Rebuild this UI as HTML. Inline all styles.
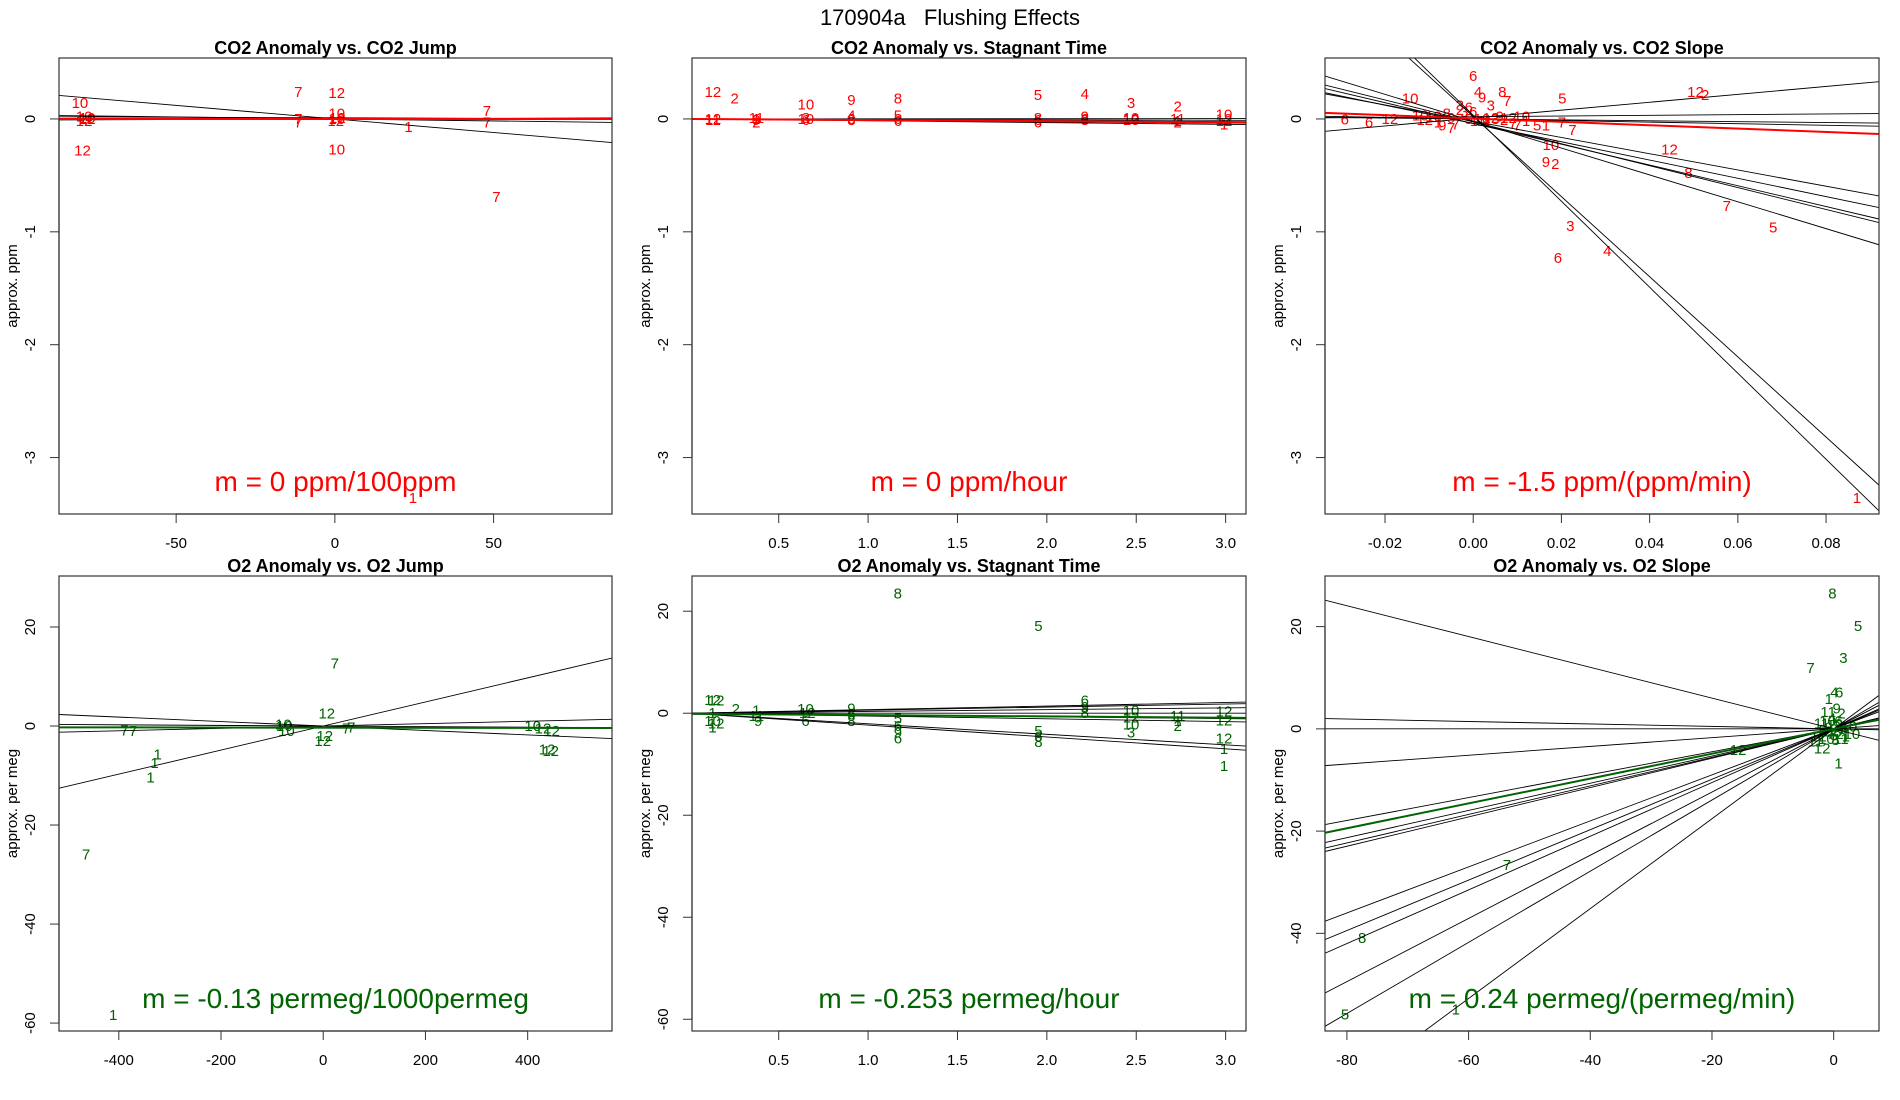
<!DOCTYPE html>
<html><head><meta charset="utf-8">
<style>
html,body{margin:0;padding:0;background:#fff;}
svg{display:block;font-family:"Liberation Sans",Arial,sans-serif;}
</style></head>
<body>
<svg id="fig" width="1900" height="1100" viewBox="0 0 1900 1100">
<text x="950" y="25" text-anchor="middle" font-size="22" xml:space="preserve">170904a &#160;&#160;Flushing Effects</text>
</svg>
<script>
// ---------- Panel 1: CO2 Anomaly vs CO2 Jump ----------
const p1X=[-80.3,-79.5,-79,-78,-79,-78,-11.5,-11.5,-11.5,0.6,0.6,0.6,0.3,0.8,0.6,23.2,47.9,47.9,50.9,24.6];
const p1Y=[0.14,-0.28,0.02,0.0,-0.02,0.01,0.24,0.0,-0.03,0.23,0.05,0.0,-0.02,0.01,-0.27,-0.07,0.07,-0.03,-0.69,-3.36];
const p1Lab=["10","12","10","12","12","10","7","7","7","12","10","10","12","12","10","1","7","7","7","1"];
const p1Slopes=[-0.0024,-0.00035,-0.0001,0.0001];
const p1Ints=[0,0,0.01,0];
const p1Fit=[0,0];
const p1XTicks=[-50,0,50];
const p1YTicks=[0,-1,-2,-3];

// ---------- Panel 2: CO2 Anomaly vs Stagnant Time ----------
const p2X=[0.132,0.254,0.132,0.132,0.375,0.375,0.375,0.375,0.652,0.652,0.652,0.652,0.907,0.907,0.907,0.907,1.167,1.167,1.167,1.167,1.95,1.95,1.95,1.95,2.212,2.212,2.212,2.212,2.471,2.471,2.471,2.471,2.732,2.732,2.732,2.732,2.991,2.991,2.991,2.991];
const p2Y=[0.24,0.18,0.0,-0.01,0.01,-0.01,-0.03,0.0,0.13,0.0,-0.01,0.01,0.17,0.03,0.0,-0.01,0.18,0.03,0.0,-0.02,0.21,0.01,-0.01,-0.03,0.22,0.02,0.0,-0.01,0.14,0.01,0.0,-0.01,0.11,0.0,-0.02,-0.03,0.04,0.0,-0.02,-0.05];
const p2Lab=["12","2","12","11","11","9","2","1","10","10","6","3","9","4","6","8","8","5","6","6","5","8","6","6","4","9","6","8","3","10","12","10","2","11","1","2","10","12","12","1"];
const p2Slopes=[-0.016,-0.012,-0.008,-0.004,0.001];
const p2Ints=[0,0,0,0,0];
const p2Fit=[-0.01,0];
const p2XTicks=[0.5,1.0,1.5,2.0,2.5,3.0];
const p2YTicks=[0,-1,-2,-3];

// ---------- Panel 3: CO2 Anomaly vs CO2 Slope ----------
const p3X=[0.000,0.0011,0.002,0.0066,0.0077,0.0202,0.0504,0.0526,-0.0143,-0.0291,-0.0236,-0.0189,0.0176,0.0165,0.0186,0.0445,0.0488,0.0575,0.068,0.022,0.0192,0.0304,0.087,0.0201,0.0225,0.0145,0.0165,0.011,-0.003,-0.001,0.004,
-0.012,-0.011,-0.009,-0.008,-0.006,-0.005,-0.004,-0.003,-0.002,-0.001,0.0,0.001,0.002,0.003,0.004,0.005,0.006,0.007,0.008,0.009,0.010,0.012,-0.007,-0.005];
const p3Y=[0.38,0.24,0.19,0.24,0.16,0.18,0.24,0.21,0.18,-0.005,-0.03,0.0,-0.23,-0.38,-0.40,-0.27,-0.48,-0.77,-0.96,-0.95,-1.23,-1.17,-3.36,-0.03,-0.1,-0.06,-0.06,0.02,0.12,0.1,0.12,
0.03,-0.01,0.02,-0.03,0.05,0.01,-0.05,0.08,0.06,0.0,0.06,-0.02,0.0,-0.03,0.01,0.0,0.02,-0.01,0.01,-0.04,-0.06,-0.02,-0.06,-0.08];
const p3Lab=["6","4","9","8","7","5","12","2","10","6","6","12","10","9","2","12","8","7","5","3","6","4","1","7","7","5","1","10","3","6","3",
"10","12","10","1","8","9","7","2","3","5","6","11","10","4","12","3","9","2","12","7","7","1","9","7"];
const p3Slopes=[-35.5,-38.1,-11.9,-9.7,-9.2,-8.1,-7.2,3.5,0.3,-0.7,-0.4];
const p3Ints=[0.022,0.033,-0.02,-0.026,-0.04,-0.04,-0.02,0.008,0.02,0.0,0.0];
const p3Fit=[-1.49,0.004];
const p3XTicks=[-0.02,0.00,0.02,0.04,0.06,0.08];
const p3XTickLabels=["-0.02","0.00","0.02","0.04","0.06","0.08"];
const p3YTicks=[0,-1,-2,-3];

// ---------- Panel 4: O2 Anomaly vs O2 Jump ----------
const p4X=[22.7,7,-389,-372,-324,-330,-338,-464,-411,-76,-72,-78,-1,3,45,55,410,447,430,438,445];
const p4Y=[12.6,2.5,-0.9,-1.0,-5.8,-7.5,-10.4,-26,-58.4,0,-1,0.3,-3,-2,-0.5,-0.3,0,-1,-0.5,-4.7,-5];
const p4Lab=["7","12","7","7","1","1","1","7","1","10","10","10","12","12","7","7","10","12","12","12","12"];
const p4Slopes=[0.0243,-0.0045,0.0024,-0.0006];
const p4Ints=[0,0,0,0];
const p4Fit=[-0.00013,-0.33];
const p4XTicks=[-400,-200,0,200,400];
const p4YTicks=[20,0,-20,-40,-60];

// ---------- Panel 5: O2 Anomaly vs Stagnant Time ----------
const p5X=[1.166,1.953,0.13,0.15,0.26,0.13,0.13,0.13,0.15,0.375,0.375,0.385,0.65,0.66,0.65,0.907,0.907,0.907,1.167,1.167,1.167,1.167,1.953,1.953,1.953,2.212,2.212,2.212,2.471,2.471,2.471,2.471,2.732,2.732,2.732,2.991,2.991,2.991,2.991,2.991];
const p5Y=[23.5,17.1,2.6,2.5,0.8,0,-1.5,-2.8,-2,0.5,-0.5,-1.5,0.8,0,-1.5,0.9,-0.3,-1.5,-1.0,-2.5,-3.8,-5,-3.5,-4.6,-5.6,2.5,1.2,0,0.5,-0.8,-2.2,-3.8,-0.5,-1.5,-2.5,0.3,-1.4,-5,-7,-10.3];
const p5Lab=["8","5","12","12","2","1","10","1","12","1","11","9","10","12","6","9","6","8","5","6","9","6","5","6","8","6","9","8","10","12","10","3","11","1","2","12","12","12","1","1"];
const p5Slopes=[-2.07,-2.33,0.7,0.35,0,-0.35,-0.55,0.6];
const p5Ints=[0,0,0,0,0,0,0,0];
const p5Fit=[-0.253,-0.12];
const p5XTicks=[0.5,1.0,1.5,2.0,2.5,3.0];
const p5YTicks=[20,0,-20,-40,-60];

// ---------- Panel 6: O2 Anomaly vs O2 Slope ----------
const p6X=[-0.2,4.0,1.6,-3.8,0.1,0.9,-0.8,0.5,1.3,-0.9,-15.7,-1.9,0.8,-53.7,-77.5,-80.3,-62.1,
-2,-1.5,-1,-0.5,0,0.5,1,1.5,-1.2,0.3,0.8,-0.3,2,-2.5,1.2,0.2,-0.8,2.5,0,-1.8,1,-0.4,0.6,-3,3];
const p6Y=[26.5,20.1,13.9,11.9,7.1,7.1,5.8,4,3,3.3,-4.1,-3.8,-6.8,-26.6,-40.9,-55.9,-54.9,
1,-0.5,1.5,-1,0,0.5,-1,0,-2,-2.2,1.5,2,-1.5,-1.5,-2,0.8,0.3,0.5,-1.3,-0.2,0.2,-0.3,-0.6,-2.5,-1];
const p6Lab=["8","5","3","7","4","6","1","9","2","11","12","12","1","7","8","5","1",
"11","12","10","7","9","3","2","5","10","8","6","4","1","12","11","12","9","10","6","3","4","1","8","11","10"];
const p6Slopes=[-0.301,-0.024,0.086,0.224,0.266,0.279,0.287,0.493,0.525,0.618,0.696,0.879,0.0,0.45];
const p6Ints=[0,0,0,0,0,0,0,0,0,0,0,0,0,0];
const p6Fit=[0.243,0];
const p6XTicks=[-80,-60,-40,-20,0];
const p6YTicks=[20,0,-20,-40];

const NS="http://www.w3.org/2000/svg";
const svg=document.getElementById('fig');
function mk(tag,attrs,parent){const e=document.createElementNS(NS,tag);for(const k in attrs)e.setAttribute(k,attrs[k]);(parent||svg).appendChild(e);return e;}

function panel(id,box,xlim,ylim,xs,ys,labs,slopes,ints,fit,xt,xtl,yt,col,title,ylab,mtext){
  const [L,T,R,B]=box;
  const sx=v=>L+(v-xlim[0])/(xlim[1]-xlim[0])*(R-L);
  const sy=v=>B-(v-ylim[0])/(ylim[1]-ylim[0])*(B-T);
  const g=mk('g',{});
  
  
  const cp=mk('clipPath',{id:id+'-clip'},g);
  mk('rect',{x:L,y:T,width:R-L,height:B-T},cp);
  const tt=mk('text',{x:(L+R)/2,y:T-4,'text-anchor':'middle','font-size':18,'font-weight':'bold'},g);
  tt.textContent=title;
  
  
  const plot=mk('g',{'clip-path':'url(#'+id+'-clip)'},g);
  for(let i=0;i<xs.length;i++){
    const t=mk('text',{x:sx(xs[i]),y:sy(ys[i])+5,'text-anchor':'middle','font-size':15,fill:col},plot);
    t.textContent=labs[i];
    
    
  }
  for(let i=0;i<slopes.length;i++){
    const ln=mk('line',{x1:sx(xlim[0]),y1:sy(ints[i]+slopes[i]*xlim[0]),x2:sx(xlim[1]),y2:sy(ints[i]+slopes[i]*xlim[1]),stroke:'#000','stroke-width':0.9},plot);
    
    
  }
  const fl=mk('line',{x1:sx(xlim[0]),y1:sy(fit[1]+fit[0]*xlim[0]),x2:sx(xlim[1]),y2:sy(fit[1]+fit[0]*xlim[1]),stroke:col,'stroke-width':2},plot);
  
  
  const mt=mk('text',{x:(L+R)/2,y:B-23,'text-anchor':'middle','font-size':28,fill:col},g);
  mt.textContent=mtext;
  
  
  const bx=mk('rect',{x:L,y:T,width:R-L,height:B-T,fill:'none',stroke:'#333','stroke-width':1.2},g);
  
  
  const xa=mk('g',{},g);
  
  
  mk('line',{x1:sx(xt[0]),y1:B,x2:sx(xt[xt.length-1]),y2:B,stroke:'#333','stroke-width':1.2},xa);
  xt.forEach((v,i)=>{
    mk('line',{x1:sx(v),y1:B,x2:sx(v),y2:B+9,stroke:'#333','stroke-width':1},xa);
    const t=mk('text',{x:sx(v),y:B+34,'text-anchor':'middle','font-size':15},xa);
    t.textContent=xtl?xtl[i]:String(v%1===0&&xt.some(q=>q%1!==0)?v.toFixed(1):v);
    
    
  });
  const ya=mk('g',{},g);
  
  
  mk('line',{x1:L,y1:sy(yt[0]),x2:L,y2:sy(yt[yt.length-1]),stroke:'#333','stroke-width':1.2},ya);
  yt.forEach(v=>{
    mk('line',{x1:L-9,y1:sy(v),x2:L,y2:sy(v),stroke:'#333','stroke-width':1},ya);
    const t=mk('text',{x:L-24,y:sy(v),'text-anchor':'middle','font-size':15,transform:'rotate(-90 '+(L-24)+' '+sy(v)+')'},ya);
    t.textContent=String(v);
    
    
  });
  const cy=(T+B)/2;
  const yl=mk('text',{x:L-42,y:cy,'text-anchor':'middle','font-size':15,transform:'rotate(-90 '+(L-42)+' '+cy+')'},g);
  yl.textContent=ylab;
  
  
}
const RED='#ff0000',GRN='#006400';
panel('co2-jump',[59,58,612,514],[-86.9,87.3],[-3.50,0.54],p1X,p1Y,p1Lab,p1Slopes,p1Ints,p1Fit,p1XTicks,null,p1YTicks,RED,'CO2 Anomaly vs. CO2 Jump','approx. ppm','m = 0 ppm/100ppm');
panel('co2-stagnant',[692,58,1246,514],[0.015,3.114],[-3.50,0.54],p2X,p2Y,p2Lab,p2Slopes,p2Ints,p2Fit,p2XTicks,null,p2YTicks,RED,'CO2 Anomaly vs. Stagnant Time','approx. ppm','m = 0 ppm/hour');
panel('co2-slope',[1325,58,1879,514],[-0.0336,0.0920],[-3.50,0.54],p3X,p3Y,p3Lab,p3Slopes,p3Ints,p3Fit,p3XTicks,p3XTickLabels,p3YTicks,RED,'CO2 Anomaly vs. CO2 Slope','approx. ppm','m = -1.5 ppm/(ppm/min)');
panel('o2-jump',[59,576,612,1031],[-517,565],[-61.6,30.3],p4X,p4Y,p4Lab,p4Slopes,p4Ints,p4Fit,p4XTicks,null,p4YTicks,GRN,'O2 Anomaly vs. O2 Jump','approx. per meg','m = -0.13 permeg/1000permeg');
panel('o2-stagnant',[692,576,1246,1031],[0.015,3.114],[-62.3,26.9],p5X,p5Y,p5Lab,p5Slopes,p5Ints,p5Fit,p5XTicks,null,p5YTicks,GRN,'O2 Anomaly vs. Stagnant Time','approx. per meg','m = -0.253 permeg/hour');
panel('o2-slope',[1325,576,1879,1031],[-83.6,7.45],[-59.1,29.9],p6X,p6Y,p6Lab,p6Slopes,p6Ints,p6Fit,p6XTicks,null,p6YTicks,GRN,'O2 Anomaly vs. O2 Slope','approx. per meg','m = 0.24 permeg/(permeg/min)');
</script>
</body></html>
